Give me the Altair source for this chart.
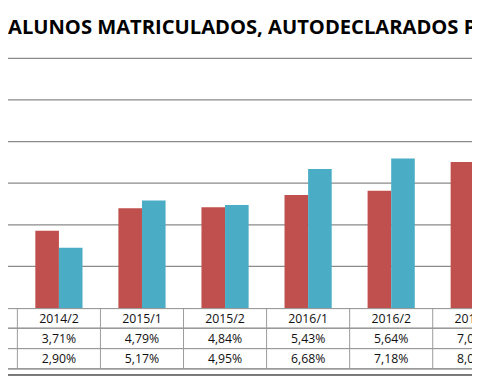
import altair as alt
import pandas as pd

categories = ["2014/2", "2015/1", "2015/2", "2016/1", "2016/2", "2017/1"]
serie_1 = [3.71, 4.79, 4.84, 5.43, 5.64, 7.02]
serie_2 = [2.90, 5.17, 4.95, 6.68, 7.18, 8.05]
series_names = ["Série 1", "Série 2"]
colors = ["#C0504D", "#4BACC6"]
grid_values = [2, 4, 6, 8, 10, 12]
title_text = "ALUNOS MATRICULADOS, AUTODECLARADOS  PRETOS E PARDOS"

W, H = 472, 372
HALF = 0.284
FONT = "Open Sans"


def fmt(v):
    return f"{v:.2f}".replace(".", ",") + "%"


rows = []
for i, c in enumerate(categories):
    rows.append(dict(cat=c, serie=series_names[0], v=serie_1[i], x0=i - HALF, x1=i))
    rows.append(dict(cat=c, serie=series_names[1], v=serie_2[i], x0=i, x1=i + HALF))
bars_df = pd.DataFrame(rows)

table_df = pd.DataFrame({
    "idx": list(range(len(categories))),
    "cat": categories,
    "r1": [fmt(v) for v in serie_1],
    "r2": [fmt(v) for v in serie_2],
    "b": [i - 0.5 for i in range(len(categories))],
})
grid_df = pd.DataFrame({"g": grid_values})

xscale = alt.Scale(domain=[-0.613, 4.973], nice=False, zero=False)
yscale = alt.Scale(domain=[-3.307, 14.266], nice=False, zero=False)

grid = alt.Chart(grid_df).mark_rule(color="#8a8a8a", strokeWidth=1.2).encode(
    y=alt.Y("g:Q", scale=yscale, axis=None),
    x=alt.value(0), x2=alt.value(W),
)

bars = alt.Chart(bars_df).mark_bar(clip=True).encode(
    x=alt.X("x0:Q", scale=xscale, axis=None),
    x2="x1:Q",
    y=alt.Y("v:Q", scale=yscale, axis=None),
    y2=alt.datum(0),
    color=alt.Color("serie:N", scale=alt.Scale(domain=series_names, range=colors), legend=None),
)

line_color = "#9a9a9a"
hlines = [
    alt.Chart(grid_df).mark_rule(color=line_color, strokeWidth=1).encode(
        y=alt.value(yp), x=alt.value(0), x2=alt.value(W))
    for yp in [302.5, 322.7, 343.2, 363.7]
]
bottom_line = alt.Chart(grid_df).mark_rule(color="#7a7a7a", strokeWidth=1.5).encode(
    y=alt.value(370), x=alt.value(0), x2=alt.value(W))

vlines = alt.Chart(table_df).mark_rule(color=line_color, strokeWidth=1).encode(
    x=alt.X("b:Q", scale=xscale, axis=None),
    y=alt.value(302.5), y2=alt.value(363.7),
)

def text_row(field, yp):
    return alt.Chart(table_df).mark_text(
        font=FONT, fontSize=12.5, color="#111111", baseline="middle", align="center", clip=True
    ).encode(
        x=alt.X("idx:Q", scale=xscale, axis=None),
        y=alt.value(yp),
        text=f"{field}:N",
    )

t_head = text_row("cat", 313)
t_r1 = text_row("r1", 333.5)
t_r2 = text_row("r2", 354)

title = alt.Chart(pd.DataFrame({"t": [title_text]})).mark_text(
    font=FONT, fontSize=20.5, fontWeight="bold", color="#000000", align="left", baseline="alphabetic"
).encode(x=alt.value(0), y=alt.value(23.5), text="t:N")

chart = alt.layer(
    grid, bars, *hlines, bottom_line, vlines, t_head, t_r1, t_r2, title
).properties(
    width=W, height=H, padding=0,
    autosize=alt.AutoSizeParams(type="none"),
).configure_view(stroke=None)

chart.save("out.html", embed_options={"renderer": "svg", "actions": False})
